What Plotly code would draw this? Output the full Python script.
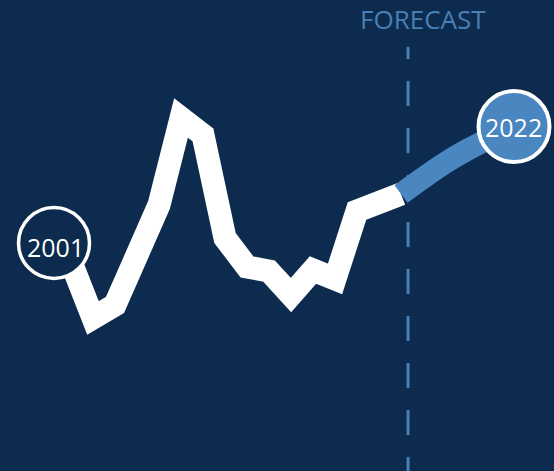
import plotly.graph_objects as go

# Historical series (white line) and forecast (blue curve), in index units
hist_years = list(range(2001, 2017))
hist_values = [20.9, 15.3, 16.6, 21.5, 26.6, 35.3, 33.6, 23.3,
               20.4, 20.0, 17.6, 20.1, 19.2, 26.0, 26.7, 27.7]
fc_years = list(range(2016, 2023))
fc_values = [27.7, 29.3, 30.8, 32.1, 33.2, 34.1, 34.8]

start_label = "2001"
end_label = "2022"
forecast_label = "FORECAST"
forecast_start = 2016.32

BG = "#0c2b4e"
BLUE = "#4a86c0"
MUTED = "#4a7fb5"
FONT = "Open Sans, Noto Sans, sans-serif"

fig = go.Figure()
fig.add_trace(go.Scatter(
    x=hist_years, y=hist_values, mode="lines",
    line=dict(color="white", width=23), hoverinfo="skip"))
fig.add_trace(go.Scatter(
    x=fc_years, y=fc_values, mode="lines",
    line=dict(color=BLUE, width=22, shape="spline", smoothing=1.0),
    hoverinfo="skip"))

R = 35.5
shapes = [
    # forecast divider
    dict(type="line", xref="x", yref="paper",
         x0=forecast_start, x1=forecast_start, y0=-11 / 471, y1=1 - 47 / 471,
         line=dict(color=MUTED, width=3, dash="25px,22px"), layer="below"),
    # start badge
    dict(type="circle", xref="x", yref="y", xsizemode="pixel", ysizemode="pixel",
         xanchor=hist_years[0], yanchor=hist_values[0],
         x0=-17 - R, x1=-17 + R, y0=19 - R, y1=19 + R,
         fillcolor=BG, line=dict(color="white", width=3.5), layer="above"),
    # end badge
    dict(type="circle", xref="x", yref="y", xsizemode="pixel", ysizemode="pixel",
         xanchor=fc_years[-1], yanchor=fc_values[-1],
         x0=-19 - R, x1=-19 + R, y0=-3.5 - R, y1=-3.5 + R,
         fillcolor=BLUE, line=dict(color="white", width=4), layer="above"),
]

annotations = [
    dict(x=hist_years[0], y=hist_values[0], xref="x", yref="y",
         text=start_label, showarrow=False, xshift=-15.5, yshift=15,
         xanchor="center", yanchor="middle",
         font=dict(family=FONT, size=25, color="white")),
    dict(x=fc_years[-1], y=fc_values[-1], xref="x", yref="y",
         text=end_label, showarrow=False, xshift=-19.5, yshift=-4,
         xanchor="center", yanchor="middle",
         font=dict(family=FONT, size=25, color="white")),
    dict(x=forecast_start, y=1 - 19 / 471, xref="x", yref="paper",
         text=forecast_label, showarrow=False, xshift=15,
         xanchor="center", yanchor="middle",
         font=dict(family=FONT, size=26, color=MUTED)),
]

fig.update_layout(
    width=554, height=471,
    margin=dict(l=0, r=0, t=0, b=0),
    paper_bgcolor=BG, plot_bgcolor=BG,
    showlegend=False,
    shapes=shapes, annotations=annotations,
    xaxis=dict(range=[2001 - 71 / 22, 2001 + 483 / 22], visible=False, fixedrange=True),
    yaxis=dict(range=[0, 47.1], visible=False, fixedrange=True),
)

fig.write_html("out.html")
